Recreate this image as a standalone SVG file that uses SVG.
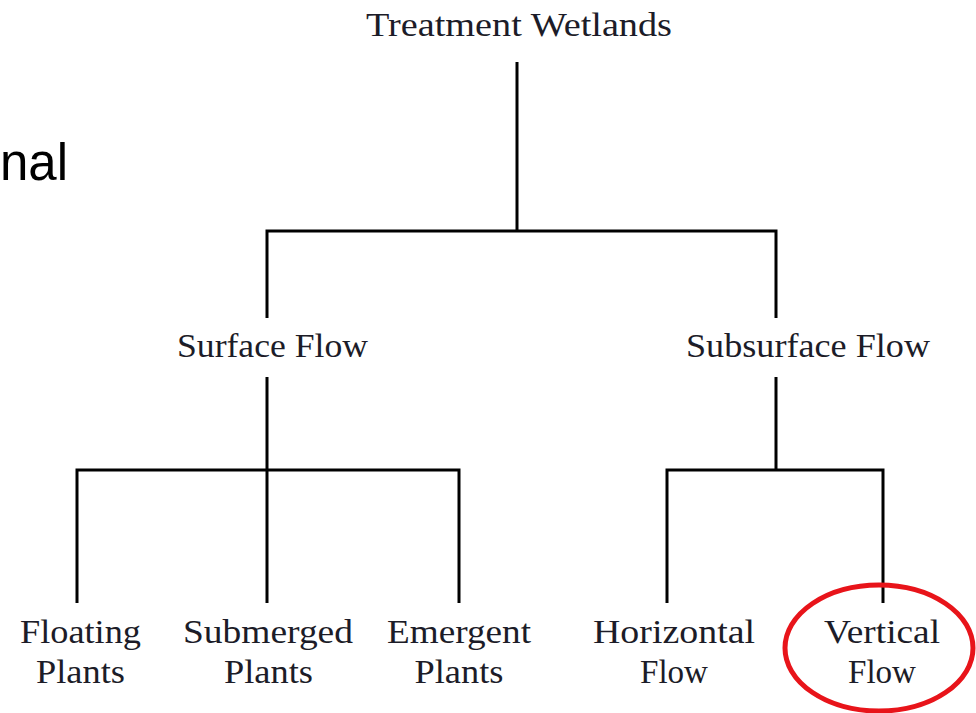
<svg xmlns="http://www.w3.org/2000/svg" width="976" height="713" viewBox="0 0 976 713">
<style>
.t{font-family:"Liberation Serif","DejaVu Serif",serif;font-size:33px;fill:#1c1c28;text-anchor:middle}
.c{stroke:#000;stroke-width:3;fill:none}
</style>
<rect width="976" height="713" fill="#fff"/>
<text x="0" y="180" font-family="Liberation Sans, Arial, sans-serif" font-size="51" fill="#000">nal</text>
<g id="connectors">
<path class="c" d="M517 62V231M267 231H776M267 229.5V318M776 229.5V318"/>
<path class="c" d="M267 377V470M77 470H459M77 468.5V603M267 470V603M459 468.5V603"/>
<path class="c" d="M776 377V470M667 470H883M667 468.5V603M883 468.5V603"/>
</g>
<g id="n-treatment"><text class="t" x="519" y="36" textLength="306" lengthAdjust="spacingAndGlyphs">Treatment Wetlands</text></g>
<g id="n-surface"><text class="t" x="272.5" y="357" textLength="191" lengthAdjust="spacingAndGlyphs">Surface Flow</text></g>
<g id="n-subsurface"><text class="t" x="808" y="357" textLength="244" lengthAdjust="spacingAndGlyphs">Subsurface Flow</text></g>
<g id="n-floating"><text class="t" x="80.5" y="643" textLength="121" lengthAdjust="spacingAndGlyphs">Floating</text><text class="t" x="80.5" y="683" textLength="89" lengthAdjust="spacingAndGlyphs">Plants</text></g>
<g id="n-submerged"><text class="t" x="268" y="643" textLength="170" lengthAdjust="spacingAndGlyphs">Submerged</text><text class="t" x="268.5" y="683" textLength="89" lengthAdjust="spacingAndGlyphs">Plants</text></g>
<g id="n-emergent"><text class="t" x="459" y="643" textLength="144" lengthAdjust="spacingAndGlyphs">Emergent</text><text class="t" x="459" y="683" textLength="89" lengthAdjust="spacingAndGlyphs">Plants</text></g>
<g id="n-horizontal"><text class="t" x="674" y="643" textLength="162" lengthAdjust="spacingAndGlyphs">Horizontal</text><text class="t" x="674" y="683" textLength="68" lengthAdjust="spacingAndGlyphs">Flow</text></g>
<g id="n-vertical"><text class="t" x="882" y="643" textLength="116" lengthAdjust="spacingAndGlyphs">Vertical</text><text class="t" x="882" y="683" textLength="68" lengthAdjust="spacingAndGlyphs">Flow</text>
<ellipse cx="879" cy="648" rx="94" ry="63" fill="none" stroke="#e8141a" stroke-width="5"/></g>
</svg>
